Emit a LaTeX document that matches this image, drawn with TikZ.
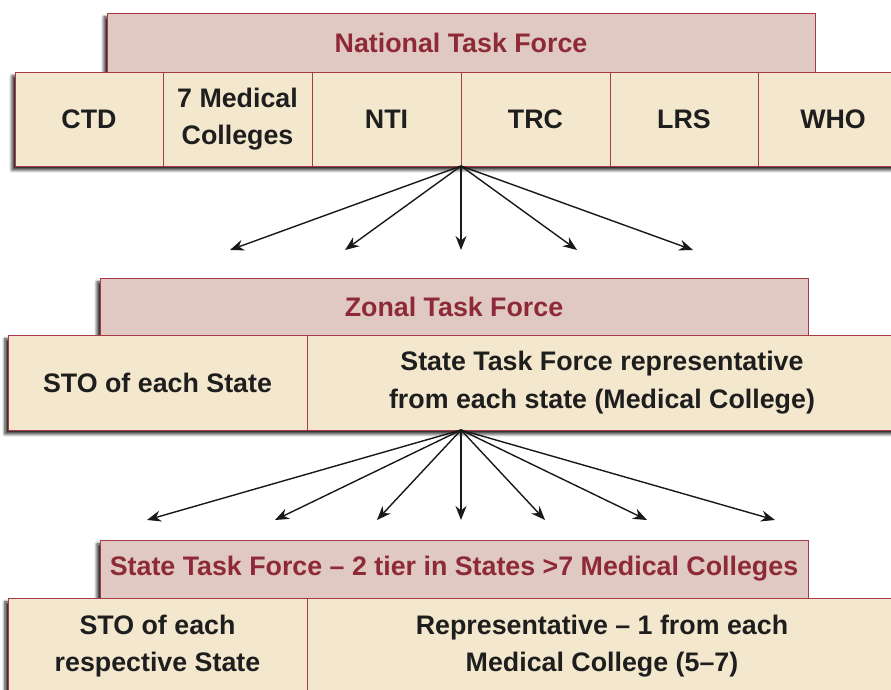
\documentclass[tikz,border=0pt]{standalone}
\usepackage{fontspec}
\setmainfont{Liberation Sans}
\usetikzlibrary{arrows.meta,shadows.blur}
\definecolor{hdrfill}{HTML}{E0C9C3}
\definecolor{hdrtext}{HTML}{8E2A38}
\definecolor{cellfill}{HTML}{F3E8CD}
\definecolor{edgecol}{HTML}{A83A48}
\definecolor{celltext}{HTML}{1E1E1E}
\tikzset{
  shad/.style={blur shadow={shadow xshift=-3pt,shadow yshift=-4pt,shadow blur steps=6,shadow blur radius=3pt,shadow opacity=85}},
  hdr/.style={draw=edgecol,line width=0.9pt,fill=hdrfill,text=hdrtext,font=\fontsize{26.8}{32}\selectfont\bfseries,inner sep=0pt,shad},
  rowbg/.style={draw=edgecol,line width=0.9pt,fill=cellfill,inner sep=0pt,shad},
  cell/.style={draw=edgecol,line width=0.9pt,fill=cellfill,text=celltext,font=\fontsize{26.8}{37.5}\selectfont\bfseries,align=center,inner sep=0pt},
  arr/.style={draw=black!90,line width=1.4pt,-{Stealth[length=14pt,width=11pt]}}
}
\begin{document}
\begin{tikzpicture}[x=1pt,y=1pt]
\useasboundingbox (0,0) rectangle (891,690);
\clip (0,0) rectangle (891,690);
% ---- National level
\node[hdr,minimum width=708pt,minimum height=59pt] (nat) at (461,647.5) {National Task Force};
\node[rowbg,minimum width=892pt,minimum height=94pt] (natrow) at (461,571) {};
\node[cell,minimum width=148pt,minimum height=94pt] (ctd) at (89,571) {CTD};
\node[cell,minimum width=149pt,minimum height=94pt] (mc7) at (237.5,571) {7 Medical\\Colleges};
\node[cell,minimum width=149pt,minimum height=94pt] (nti) at (386.5,571) {NTI};
\node[cell,minimum width=149pt,minimum height=94pt] (trc) at (535.5,571) {TRC};
\node[cell,minimum width=148pt,minimum height=94pt] (lrs) at (684,571) {LRS};
\node[cell,minimum width=150pt,minimum height=94pt] (who) at (833,571) {WHO};
\coordinate (s1) at (461,524);
\coordinate (a1) at (230,440);
\coordinate (a2) at (345,440);
\coordinate (a3) at (461,440);
\coordinate (a4) at (577,440);
\coordinate (a5) at (693,440);
\foreach \t in {a1,a2,a3,a4,a5} \draw[arr] (s1) -- (\t);
% ---- Zonal level
\node[hdr,minimum width=708pt,minimum height=57pt] (zon) at (454,383.5) {Zonal Task Force};
\node[rowbg,minimum width=890pt,minimum height=95pt] (zonrow) at (453,307.5) {};
\node[cell,minimum width=299pt,minimum height=95pt] (sto1) at (157.5,307.5) {STO of each State};
\node[cell,minimum width=590pt,minimum height=95pt] (stf) at (602,307.5) {State Task Force representative\\from each state (Medical College)};
\coordinate (s2) at (461,260);
\coordinate (b1) at (147,170);
\coordinate (b2) at (275,170);
\coordinate (b3) at (377,170);
\coordinate (b4) at (461,170);
\coordinate (b5) at (545,170);
\coordinate (b6) at (647,170);
\coordinate (b7) at (775,170);
\foreach \t in {b1,b2,b3,b4,b5,b6,b7} \draw[arr] (s2) -- (\t);
% ---- State level
\node[hdr,minimum width=708pt,minimum height=58pt] (sta) at (454,121) {State Task Force – 2 tier in States >7 Medical Colleges};
\node[rowbg,minimum width=890pt,minimum height=96pt] (starow) at (453,44) {};
\node[cell,minimum width=299pt,minimum height=96pt] (sto2) at (157.5,44) {STO of each\\respective State};
\node[cell,minimum width=590pt,minimum height=96pt] (rep) at (602,44) {Representative – 1 from each\\Medical College (5–7)};
\end{tikzpicture}
\end{document}
